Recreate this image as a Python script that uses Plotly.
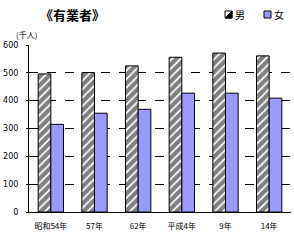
import plotly.graph_objects as go

categories = ["昭和54年", "57年", "62年", "平成4年", "9年", "14年"]
male = [496, 501, 525, 556, 571, 561]
female = [315, 355, 369, 427, 427, 409]

font_jp = "Noto Sans CJK JP"

fig = go.Figure()
fig.add_trace(go.Bar(
    x=categories, y=male, name="男",
    marker=dict(color="white", line=dict(color="black", width=1),
                pattern=dict(shape="/", fgcolor="black", bgcolor="white", size=6, solidity=0.7)),
))
fig.add_trace(go.Bar(
    x=categories, y=female, name="女",
    marker=dict(color="#9999FF", line=dict(color="black", width=1)),
))

# plot area in pixels: x 29..291, y 45..212
def px(x):
    return (x - 29) / 262
def py(y):
    return (212 - y) / 167

shapes = [
    dict(type="rect", xref="paper", yref="paper", x0=px(225), x1=px(232), y0=py(18), y1=py(11),
         line=dict(color="black", width=1), fillcolor="white"),
    dict(type="path", xref="paper", yref="paper",
         path=f"M{px(225)},{py(18)} L{px(232)},{py(11)} L{px(232)},{py(18)} Z",
         line=dict(color="black", width=1), fillcolor="black"),
    dict(type="rect", xref="paper", yref="paper", x0=px(264), x1=px(271), y0=py(18), y1=py(11),
         line=dict(color="black", width=1), fillcolor="#9999FF"),
]

fig.update_layout(
    width=294, height=242,
    margin=dict(l=29, r=3, t=45, b=30),
    paper_bgcolor="white", plot_bgcolor="white",
    barmode="group", bargap=0.42, bargroupgap=0,
    font=dict(family=font_jp, size=8, color="black"),
    showlegend=False,
    shapes=shapes,
    xaxis=dict(showline=True, linecolor="black", linewidth=1, ticks="",
               ticklabelstandoff=6,
               tickfont=dict(size=8, family=font_jp), showgrid=False),
    yaxis=dict(range=[0, 600], tickvals=[0, 100, 200, 300, 400, 500, 600],
               showline=True, linecolor="black", linewidth=1,
               ticks="outside", ticklen=2, tickcolor="black",
               ticklabelstandoff=6,
               showgrid=True, gridcolor="black", gridwidth=1, griddash="dash",
               tickfont=dict(size=8, family="DejaVu Sans"), zeroline=False),
    annotations=[
        dict(text="<b>《有業者》</b>", x=px(38), y=py(15), xref="paper", yref="paper",
             xanchor="left", yanchor="middle", showarrow=False,
             font=dict(size=13, family=font_jp)),
        dict(text="(千人)", x=px(26), y=py(34), xref="paper", yref="paper",
             xanchor="center", yanchor="middle", showarrow=False,
             font=dict(size=8, family=font_jp)),
        dict(text="男", x=px(233), y=py(15), xref="paper", yref="paper",
             xanchor="left", yanchor="middle", showarrow=False,
             font=dict(size=10, family=font_jp)),
        dict(text="女", x=px(272), y=py(15), xref="paper", yref="paper",
             xanchor="left", yanchor="middle", showarrow=False,
             font=dict(size=10, family=font_jp)),
    ],
)

fig.write_html("out.html")
